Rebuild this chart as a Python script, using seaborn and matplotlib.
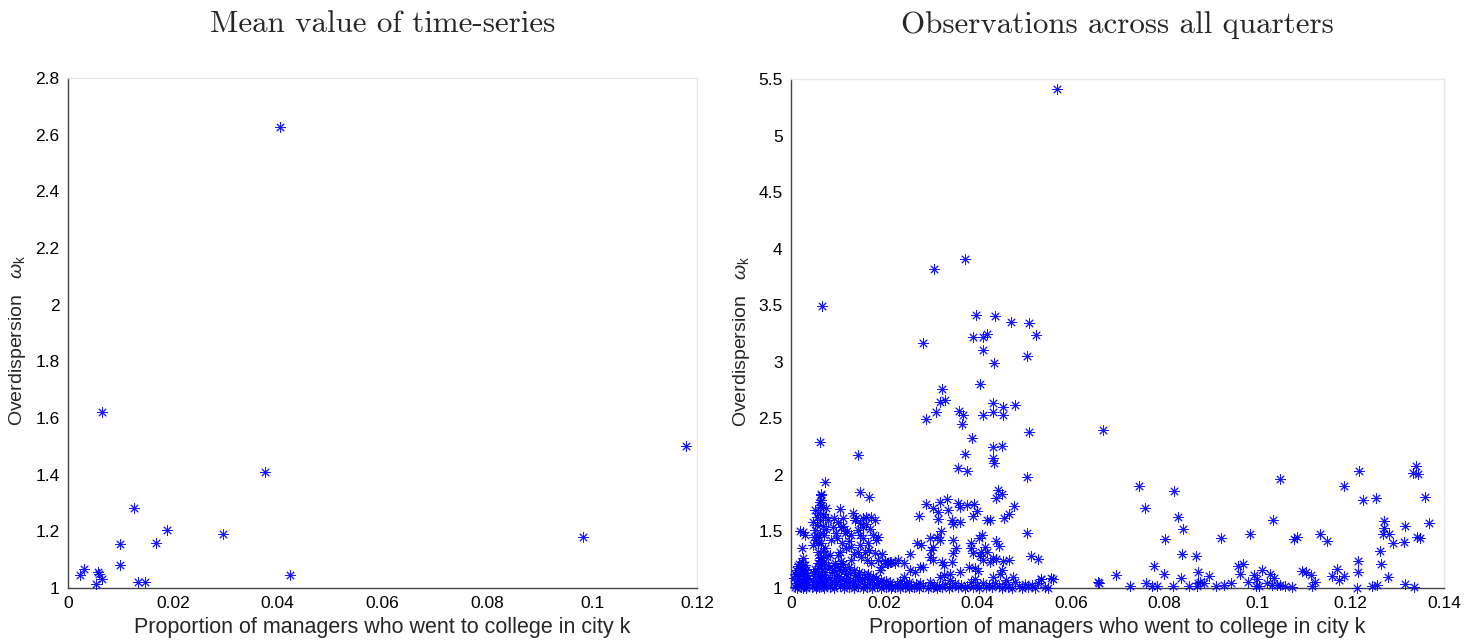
import numpy as np
import pandas as pd
import matplotlib
matplotlib.use("Agg")
import matplotlib.pyplot as plt
import seaborn as sns

# ---------------- data ----------------
left_x = [0.04037, 0.00642, 0.1179, 0.0375, 0.01261, 0.01896, 0.0296, 0.0983,
          0.00991, 0.01681, 0.00991, 0.04243, 0.00222, 0.00301, 0.00563, 0.00595,
          0.00642, 0.00531, 0.01332, 0.01475]
left_y = [2.627, 1.622, 1.501, 1.410, 1.281, 1.204, 1.189, 1.179,
          1.155, 1.159, 1.082, 1.045, 1.045, 1.067, 1.058, 1.048,
          1.033, 1.014, 1.021, 1.021]

high_pts = [(0.0571, 5.41), (0.0374, 3.906), (0.0307, 3.818), (0.0067, 3.493), (0.0397, 3.414),
            (0.0438, 3.405), (0.0471, 3.349), (0.0511, 3.34), (0.0391, 3.222), (0.0412, 3.222),
            (0.0420, 3.246), (0.0525, 3.24), (0.0284, 3.163), (0.0412, 3.10), (0.0435, 2.99),
            (0.0505, 3.054), (0.0324, 2.76), (0.0406, 2.80), (0.0319, 2.642), (0.0330, 2.662),
            (0.0310, 2.556), (0.0289, 2.491), (0.0360, 2.568), (0.0369, 2.53), (0.0367, 2.447),
            (0.0411, 2.53), (0.0434, 2.633), (0.0455, 2.603), (0.0481, 2.615), (0.0434, 2.553),
            (0.0455, 2.532), (0.0511, 2.377), (0.0668, 2.393), (0.0388, 2.324), (0.0434, 2.249),
            (0.0452, 2.258), (0.0372, 2.185), (0.0434, 2.147), (0.0435, 2.103), (0.0357, 2.058),
            (0.0377, 2.037), (0.0062, 2.291), (0.0143, 2.179)]

mid_pts = [(0.0506, 1.985), (0.0444, 1.867), (0.0452, 1.831), (0.0440, 1.793), (0.0478, 1.725),
           (0.0468, 1.654), (0.0457, 1.616), (0.0427, 1.600), (0.0507, 1.489), (0.0440, 1.418),
           (0.0446, 1.374), (0.0515, 1.286), (0.0530, 1.256), (0.0434, 1.263), (0.0455, 1.241),
           (0.0468, 1.248), (0.0452, 1.159), (0.0448, 1.124), (0.0477, 1.100), (0.0434, 1.100),
           (0.0537, 1.077), (0.0561, 1.082), (0.0660, 1.047),
           (0.0289, 1.740), (0.0319, 1.763), (0.0334, 1.784), (0.0305, 1.710), (0.0316, 1.675),
           (0.0337, 1.690), (0.0357, 1.749), (0.0362, 1.713), (0.0378, 1.734), (0.0392, 1.743),
           (0.0399, 1.683), (0.0391, 1.637), (0.0275, 1.639), (0.0316, 1.607), (0.0345, 1.601),
           (0.0348, 1.566), (0.0362, 1.586), (0.0420, 1.601), (0.0322, 1.507), (0.0312, 1.448),
           (0.0319, 1.424), (0.0297, 1.440), (0.0270, 1.395), (0.0278, 1.380), (0.0305, 1.365),
           (0.0300, 1.336), (0.0348, 1.424), (0.0354, 1.351), (0.0348, 1.307), (0.0404, 1.440),
           (0.0409, 1.469), (0.0385, 1.395), (0.0385, 1.351), (0.0407, 1.321), (0.0391, 1.307),
           (0.0416, 1.360), (0.0420, 1.321), (0.0405, 1.283), (0.0412, 1.248), (0.0255, 1.298),
           (0.0242, 1.224), (0.0297, 1.277), (0.0304, 1.248), (0.0323, 1.233), (0.0327, 1.203),
           (0.0345, 1.233), (0.0255, 1.159), (0.0277, 1.183), (0.0266, 1.144), (0.0284, 1.188),
           (0.0362, 1.144), (0.0382, 1.188), (0.0395, 1.174), (0.0400, 1.153), (0.0427, 1.233),
           (0.0440, 1.254), (0.0212, 1.233), (0.0242, 1.100), (0.0327, 1.115), (0.0341, 1.124),
           (0.0319, 1.100)]

far_pts = [(0.0746, 1.899), (0.0821, 1.860), (0.0759, 1.710), (0.0829, 1.625), (0.0840, 1.518),
           (0.0801, 1.436), (0.0839, 1.299), (0.0869, 1.280), (0.0779, 1.198), (0.0800, 1.122),
           (0.0697, 1.116), (0.0658, 1.052), (0.0726, 1.015), (0.0762, 1.040), (0.0773, 1.020),
           (0.0785, 1.015), (0.0819, 1.015), (0.0854, 1.015), (0.0837, 1.085), (0.0872, 1.046),
           (0.0873, 1.144),
           (0.1049, 1.964), (0.1185, 1.900), (0.1217, 2.036), (0.1227, 1.776), (0.1255, 1.795),
           (0.1339, 2.080), (0.1334, 2.018), (0.1345, 2.006), (0.1359, 1.807), (0.1368, 1.571),
           (0.0897, 1.106), (0.0877, 1.054), (0.0885, 1.042), (0.0870, 1.015),
           (0.0922, 1.438), (0.0985, 1.474), (0.1033, 1.604), (0.1079, 1.432), (0.1085, 1.453),
           (0.1134, 1.477), (0.1149, 1.414),
           (0.0911, 1.015), (0.0929, 1.030), (0.0943, 1.045), (0.0958, 1.196), (0.0969, 1.215),
           (0.0963, 1.121), (0.0979, 1.051), (0.0993, 1.118), (0.0999, 1.082), (0.1010, 1.157),
           (0.0998, 1.015), (0.1003, 1.015), (0.1021, 1.045), (0.1028, 1.121), (0.1036, 1.088),
           (0.1031, 1.024), (0.1041, 1.024), (0.1049, 1.024), (0.1060, 1.015), (0.1074, 1.006),
           (0.1096, 1.151), (0.1105, 1.142), (0.1114, 1.118), (0.1124, 1.054), (0.1116, 1.015),
           (0.1160, 1.109), (0.1170, 1.172), (0.1175, 1.075), (0.1185, 1.106),
           (0.1215, 1.236), (0.1215, 1.145), (0.1214, 1.000), (0.1246, 1.015), (0.1256, 1.024),
           (0.1263, 1.323), (0.1266, 1.208), (0.1279, 1.097), (0.1271, 1.595), (0.1271, 1.529),
           (0.1270, 1.474), (0.1282, 1.474), (0.1290, 1.402), (0.1316, 1.550), (0.1314, 1.408),
           (0.1316, 1.036), (0.1336, 1.006), (0.1342, 1.450), (0.1349, 1.444)]

edge_pts = [(0.0008, 1.010), (0.0010, 1.046), (0.0012, 1.082), (0.0009, 1.121), (0.0011, 1.158),
            (0.0014, 1.194), (0.0015, 1.026), (0.0017, 1.061), (0.0018, 1.103), (0.0016, 1.139),
            (0.0019, 1.176), (0.0021, 1.005), (0.0022, 1.036), (0.0023, 1.072), (0.0024, 1.112),
            (0.0022, 1.151), (0.0025, 1.187), (0.0027, 1.016), (0.0028, 1.052), (0.0029, 1.091),
            (0.0030, 1.131), (0.0028, 1.166), (0.0032, 1.001), (0.0033, 1.031), (0.0034, 1.076),
            (0.0035, 1.117), (0.0031, 1.203), (0.0013, 1.003), (0.0026, 1.002), (0.0020, 1.126),
            (0.0007, 1.092), (0.0036, 1.052), (0.0033, 1.156), (0.0018, 1.212), (0.0024, 1.226),
            (0.0026, 1.498), (0.0029, 1.469), (0.0024, 1.351), (0.0026, 1.263), (0.0019, 1.505)]

col_pts = [(0.0046, 1.011), (0.0048, 1.052), (0.0050, 1.091), (0.0047, 1.132), (0.0052, 1.166),
           (0.0055, 1.021), (0.0057, 1.064), (0.0058, 1.108), (0.0056, 1.149), (0.0061, 1.005),
           (0.0062, 1.041), (0.0063, 1.086), (0.0064, 1.127), (0.0066, 1.171), (0.0068, 1.015),
           (0.0069, 1.056), (0.0070, 1.098), (0.0072, 1.142), (0.0074, 1.031), (0.0075, 1.074),
           (0.0060, 1.196), (0.0053, 1.003), (0.0071, 1.004), (0.0065, 1.211),
           (0.0065, 1.822), (0.0062, 1.763), (0.0072, 1.940), (0.0065, 1.831), (0.0064, 1.778),
           (0.0065, 1.734), (0.0051, 1.690), (0.0058, 1.660), (0.0076, 1.705), (0.0072, 1.630),
           (0.0062, 1.600), (0.0047, 1.586), (0.0079, 1.600), (0.0051, 1.513), (0.0062, 1.484),
           (0.0054, 1.424), (0.0065, 1.395), (0.0047, 1.380), (0.0072, 1.351), (0.0058, 1.321),
           (0.0065, 1.277), (0.0065, 1.248), (0.0055, 1.560), (0.0068, 1.548), (0.0060, 1.452),
           (0.0070, 1.470), (0.0057, 1.402), (0.0068, 1.330), (0.0062, 1.268), (0.0075, 1.282),
           (0.0058, 1.222), (0.0070, 1.232), (0.0063, 1.716), (0.0069, 1.652), (0.0055, 1.628),
           (0.0074, 1.520), (0.0049, 1.450)]

cluster_pts = [(0.0149, 1.846), (0.0167, 1.807), (0.0106, 1.696), (0.0133, 1.660), (0.0137, 1.600),
               (0.0154, 1.616), (0.0161, 1.630), (0.0172, 1.630), (0.0147, 1.572), (0.0111, 1.616),
               (0.0108, 1.542), (0.0090, 1.542), (0.0097, 1.484), (0.0115, 1.484), (0.0129, 1.469),
               (0.0144, 1.513), (0.0154, 1.542), (0.0147, 1.469), (0.0086, 1.424), (0.0104, 1.321),
               (0.0101, 1.292), (0.0083, 1.292), (0.0094, 1.218), (0.0079, 1.203), (0.0129, 1.365),
               (0.0147, 1.380), (0.0144, 1.321), (0.0158, 1.321), (0.0165, 1.395), (0.0176, 1.469),
               (0.0187, 1.454), (0.0183, 1.424), (0.0181, 1.307), (0.0151, 1.277), (0.0172, 1.218),
               (0.0187, 1.248), (0.0190, 1.159), (0.0208, 1.218), (0.0215, 1.233), (0.0194, 1.188),
               (0.0092, 1.620), (0.0100, 1.580), (0.0112, 1.552), (0.0120, 1.502), (0.0098, 1.442),
               (0.0110, 1.402), (0.0125, 1.418), (0.0118, 1.352), (0.0135, 1.302), (0.0128, 1.252),
               (0.0108, 1.238), (0.0140, 1.622), (0.0160, 1.568), (0.0170, 1.522), (0.0155, 1.441),
               (0.0168, 1.332), (0.0180, 1.600), (0.0162, 1.252), (0.0196, 1.302), (0.0201, 1.242),
               (0.0229, 1.252), (0.0224, 1.222), (0.0205, 1.218)]

floor_pts = [(0.0083, 1.012), (0.0086, 1.054), (0.0084, 1.093), (0.0087, 1.141), (0.0082, 1.178),
             (0.0093, 1.002), (0.0096, 1.033), (0.0094, 1.071), (0.0097, 1.118), (0.0092, 1.162),
             (0.0095, 1.198), (0.0104, 1.021), (0.0106, 1.058), (0.0103, 1.104), (0.0107, 1.148),
             (0.0105, 1.187), (0.0114, 1.003), (0.0116, 1.042), (0.0113, 1.081), (0.0117, 1.128),
             (0.0115, 1.171), (0.0112, 1.209), (0.0124, 1.012), (0.0127, 1.049), (0.0123, 1.092),
             (0.0126, 1.137), (0.0124, 1.182), (0.0134, 1.001), (0.0136, 1.031), (0.0133, 1.068),
             (0.0137, 1.113), (0.0135, 1.158), (0.0144, 1.018), (0.0147, 1.061), (0.0143, 1.099),
             (0.0146, 1.146), (0.0154, 1.003), (0.0157, 1.038), (0.0153, 1.079), (0.0156, 1.122),
             (0.0164, 1.011), (0.0167, 1.052), (0.0163, 1.091), (0.0166, 1.128), (0.0174, 1.002),
             (0.0177, 1.031), (0.0173, 1.069), (0.0176, 1.108), (0.0184, 1.018), (0.0187, 1.049),
             (0.0183, 1.088), (0.0194, 1.001), (0.0197, 1.038), (0.0193, 1.071), (0.0204, 1.012),
             (0.0207, 1.031), (0.0203, 1.058), (0.0214, 1.002), (0.0217, 1.022), (0.0213, 1.049),
             (0.0224, 1.011), (0.0227, 1.038), (0.0234, 1.001), (0.0237, 1.028), (0.0233, 1.061),
             (0.0244, 1.012), (0.0247, 1.041), (0.0254, 1.002), (0.0257, 1.021), (0.0253, 1.052),
             (0.0264, 1.011), (0.0267, 1.033), (0.0274, 1.001), (0.0277, 1.042), (0.0284, 1.018),
             (0.0294, 1.003), (0.0297, 1.049), (0.0304, 1.012), (0.0307, 1.031), (0.0314, 1.002),
             (0.0318, 1.022),
             (0.0324, 1.011), (0.0331, 1.035), (0.0338, 1.004), (0.0345, 1.022), (0.0352, 1.048),
             (0.0358, 1.008), (0.0365, 1.031), (0.0372, 1.002), (0.0378, 1.018), (0.0385, 1.056),
             (0.0391, 1.009), (0.0398, 1.028), (0.0404, 1.003), (0.0411, 1.041), (0.0418, 1.012),
             (0.0424, 1.025), (0.0431, 1.006), (0.0438, 1.045), (0.0445, 1.015), (0.0452, 1.002),
             (0.0459, 1.032), (0.0466, 1.011), (0.0474, 1.004), (0.0481, 1.052), (0.0488, 1.019),
             (0.0495, 1.003), (0.0502, 1.038), (0.0509, 1.008), (0.0517, 1.024), (0.0523, 1.002),
             (0.0530, 1.045), (0.0535, 1.082), (0.0558, 1.085), (0.0544, 1.012), (0.0551, 1.003),
             (0.0340, 1.072), (0.0395, 1.078), (0.0462, 1.068)]

left_xticks = [0, 0.02, 0.04, 0.06, 0.08, 0.1, 0.12]
left_xticklabels = ["0", "0.02", "0.04", "0.06", "0.08", "0.1", "0.12"]
left_yticks = [1, 1.2, 1.4, 1.6, 1.8, 2, 2.2, 2.4, 2.6, 2.8]
left_yticklabels = ["1", "1.2", "1.4", "1.6", "1.8", "2", "2.2", "2.4", "2.6", "2.8"]
right_xticks = [0, 0.02, 0.04, 0.06, 0.08, 0.1, 0.12, 0.14]
right_xticklabels = ["0", "0.02", "0.04", "0.06", "0.08", "0.1", "0.12", "0.14"]
right_yticks = [1, 1.5, 2, 2.5, 3, 3.5, 4, 4.5, 5, 5.5]
right_yticklabels = ["1", "1.5", "2", "2.5", "3", "3.5", "4", "4.5", "5", "5.5"]

titles = ["Mean value of time-series", "Observations across all quarters"]
xlabel = "Proportion of managers who went to college in city k"
ylabel = r"Overdispersion   $\omega_{\mathrm{k}}$"

# ---------------- style ----------------
sns.set_style("white")
plt.rcParams["font.family"] = ["Liberation Sans", "DejaVu Sans"]
plt.rcParams["mathtext.fontset"] = "custom"
plt.rcParams["mathtext.rm"] = "Liberation Sans"
plt.rcParams["mathtext.it"] = "Liberation Sans:italic"

right_all = high_pts + mid_pts + far_pts + edge_pts + col_pts + cluster_pts + floor_pts
right_df = pd.DataFrame(right_all, columns=["x", "y"])
left_df = pd.DataFrame({"x": left_x, "y": left_y})

fig = plt.figure(figsize=(14.73, 6.43), dpi=100)
ax1 = fig.add_axes([0.0462, 0.0855, 0.4270, 0.7932])
ax2 = fig.add_axes([0.5370, 0.0855, 0.4433, 0.7916])

marker = (8, 2, 0)
for ax, df in [(ax1, left_df), (ax2, right_df)]:
    sns.scatterplot(data=df, x="x", y="y", ax=ax, marker=marker, color="#0000ff",
                    s=48, linewidth=0.7, alpha=0.9, clip_on=False, zorder=3, legend=False)

specs = [
    (ax1, (0, 0.12), (1, 2.8), left_xticks, left_xticklabels, left_yticks, left_yticklabels, -0.064),
    (ax2, (0, 0.14), (1, 5.5), right_xticks, right_xticklabels, right_yticks, right_yticklabels, -0.060),
]
for ax, xl, yl, xt, xtl, yt, ytl, lx in specs:
    ax.set_xlim(*xl)
    ax.set_ylim(*yl)
    ax.set_xticks(xt)
    ax.set_xticklabels(xtl)
    ax.set_yticks(yt)
    ax.set_yticklabels(ytl)
    ax.tick_params(axis="both", direction="in", length=5, width=0.8, color="#333333",
                   labelsize=12.5, labelcolor="black", pad=6)
    for side in ["left", "bottom"]:
        ax.spines[side].set_color("#444444")
        ax.spines[side].set_linewidth(1.0)
    for side in ["top", "right"]:
        ax.spines[side].set_color("#e6e6e6")
        ax.spines[side].set_linewidth(1.0)
    ax.set_xlabel(xlabel, fontsize=15.5, labelpad=4)
    ax.set_ylabel(ylabel, fontsize=14)
    ax.yaxis.set_label_coords(lx, 0.485)

ax1.set_title(titles[0], fontsize=22.3, family="cmr10", pad=33)
ax2.set_title(titles[1], fontsize=22.3, family="cmr10", pad=33)

fig.savefig("out.png", dpi=100)
